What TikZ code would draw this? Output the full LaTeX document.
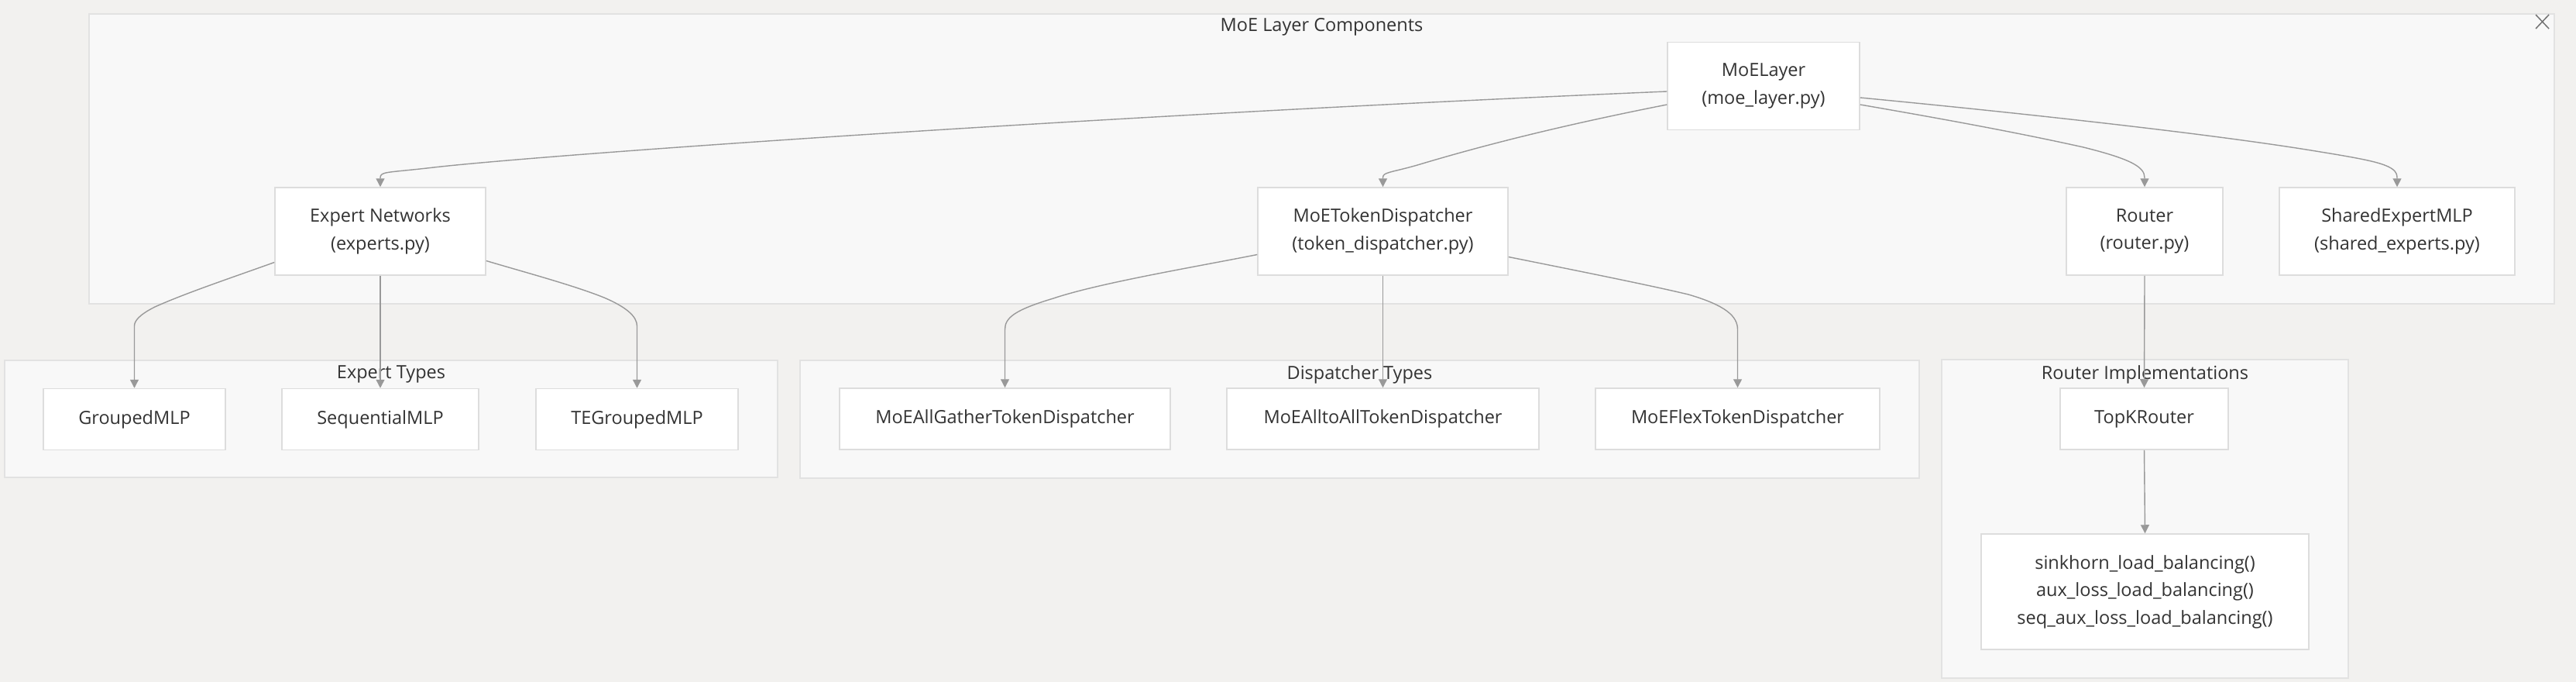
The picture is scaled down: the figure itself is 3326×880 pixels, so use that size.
\documentclass[tikz,border=0pt]{standalone}
\usepackage{fontspec}
\setmainfont{Open Sans}
\usetikzlibrary{arrows.meta}

\definecolor{bgcol}{HTML}{F2F1EF}
\definecolor{groupfill}{HTML}{F8F8F8}
\definecolor{groupline}{HTML}{E2E2E2}
\definecolor{boxline}{HTML}{DDDDDD}
\definecolor{edgecol}{HTML}{999999}
\definecolor{txtcol}{HTML}{333333}

\begin{document}
\begin{tikzpicture}[x=1pt, y=-1pt,
    comp/.style={rectangle, draw=boxline, line width=1.5pt, fill=white, minimum height=113pt, inner sep=0pt, align=center, text=txtcol, font=\fontsize{23.5}{35.5}\selectfont},
    impl/.style={comp, minimum height=79pt},
    group/.style={draw=groupline, line width=2pt, fill=groupfill},
    grouptitle/.style={text=txtcol, inner sep=0pt, font=\fontsize{23.5}{28}\selectfont},
    arrow/.style={-{Triangle[length=11pt, width=11pt]}, draw=edgecol, line width=1.4pt}]

    % Canvas
    \useasboundingbox (0,0) rectangle (3326,880);
    \fill[bgcol] (0,0) rectangle (3326,880);

    % Groups
    \draw[group] (115,18) rectangle (3298,392);
    \draw[group] (6,465) rectangle (1004,616);
    \draw[group] (1033,465) rectangle (2478,617);
    \draw[group] (2507,464) rectangle (3032,875);
    \node[grouptitle] (layertitle) at (1706.5,35) {MoE Layer Components};
    \node[grouptitle] (experttitle) at (505,483) {Expert Types};
    \node[grouptitle] (dispatchtitle) at (1755.5,483) {Dispatcher Types};
    \node[grouptitle] (routertitle) at (2769.5,483) {Router Implementations};
    \draw[gray!90!black, line width=1.5pt] (3274,19) -- (3291,37) (3291,19) -- (3274,37);

    % Layer components
    \node[comp, minimum width=248pt] (moe) at (2277,111) {MoELayer\\(moe\_layer.py)};
    \node[comp, minimum width=272pt] (expnet) at (491,298.5) {Expert Networks\\(experts.py)};
    \node[comp, minimum width=323pt] (dispatcher) at (1785.5,298.5) {MoETokenDispatcher\\(token\_dispatcher.py)};
    \node[comp, minimum width=202pt] (router) at (2769,298.5) {Router\\(router.py)};
    \node[comp, minimum width=304pt] (shared) at (3095,298.5) {SharedExpertMLP\\(shared\_experts.py)};

    % Expert types
    \node[impl, minimum width=235pt] (grouped) at (173.5,541) {GroupedMLP};
    \node[impl, minimum width=254pt] (sequential) at (491,541) {SequentialMLP};
    \node[impl, minimum width=261pt] (tegrouped) at (822.5,541) {TEGroupedMLP};

    % Dispatcher types
    \node[impl, minimum width=427pt] (allgather) at (1297.5,540.5) {MoEAllGatherTokenDispatcher};
    \node[impl, minimum width=403pt] (alltoall) at (1785.5,540.5) {MoEAlltoAllTokenDispatcher};
    \node[impl, minimum width=367pt] (flex) at (2243.5,540.5) {MoEFlexTokenDispatcher};

    % Router implementations
    \node[impl, minimum width=217pt] (topk) at (2768.5,540.5) {TopKRouter};
    \node[comp, minimum width=423pt, minimum height=149pt] (balancing) at (2769.5,763.5) {sinkhorn\_load\_balancing()\\aux\_loss\_load\_balancing()\\seq\_aux\_loss\_load\_balancing()};

    % Connect MoELayer
    \draw[arrow] ([yshift=-7pt]moe.west) .. controls (1400,150) and (700,200) .. (560,216)
        .. controls (500,223) and (491,221) .. ([yshift=12pt]expnet.north) -- (expnet.north);
    \draw[arrow] ([yshift=-24pt]moe.west) .. controls (2000,165) and (1900,192) .. (1830,213)
        .. controls (1795,223) and (1785.5,222) .. ([yshift=12pt]dispatcher.north) -- (dispatcher.north);
    \draw[arrow] ([yshift=-24pt]moe.east) .. controls (2500,152) and (2600,170) .. (2690,190)
        .. controls (2750,205) and (2769,215) .. ([yshift=12pt]router.north) -- (router.north);
    \draw[arrow] ([yshift=-15pt]moe.east) .. controls (2600,145) and (2850,172) .. (2990,195)
        .. controls (3070,208) and (3095,213) .. ([yshift=12pt]shared.north) -- (shared.north);

    % Connect experts
    \draw[arrow] ([yshift=-40pt]expnet.west) .. controls (300,358) and (240,378) .. (200,396)
        .. controls (178,407) and (173.5,415) .. ([yshift=80pt]grouped.north) -- (grouped.north);
    \draw[arrow] (expnet.south) -- (sequential.north);
    \draw[arrow] ([yshift=-38pt]expnet.east) .. controls (680,352) and (740,368) .. (780,384)
        .. controls (808,396) and (822.5,408) .. ([yshift=80pt]tegrouped.north) -- (tegrouped.north);

    % Connect dispatchers
    \draw[arrow] ([yshift=-30pt]dispatcher.west) .. controls (1540,345) and (1420,365) .. (1360,385)
        .. controls (1310,400) and (1297.5,410) .. ([yshift=75pt]allgather.north) -- (allgather.north);
    \draw[arrow] (dispatcher.south) -- (alltoall.north);
    \draw[arrow] ([yshift=-33pt]dispatcher.east) .. controls (2030,348) and (2130,368) .. (2180,380)
        .. controls (2228,394) and (2243.5,408) .. ([yshift=75pt]flex.north) -- (flex.north);

    % Connect router
    \draw[arrow] (router.south) -- (topk.north);
    \draw[arrow] (topk.south) -- (balancing.north);
\end{tikzpicture}
\end{document}
